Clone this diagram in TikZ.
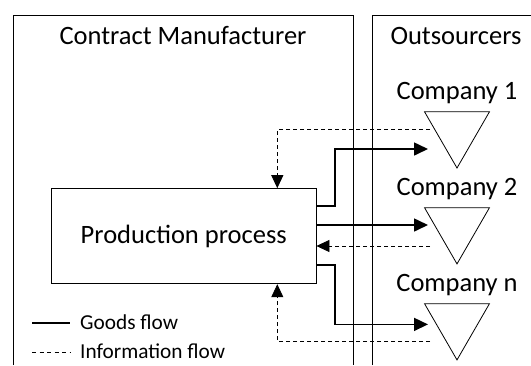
\documentclass[tikz,border=0pt]{standalone}
\usepackage{fontspec}
\setmainfont{Carlito}
\usetikzlibrary{arrows.meta,shapes.geometric,calc}
\tikzset{goods/.style={line width=1.6pt, -{Triangle[length=14pt,width=13pt]}},
info/.style={line width=0.8pt, dash pattern=on 4pt off 3pt, -{Triangle[length=13pt,width=12pt]}},
company/.style={draw, line width=0.8pt, regular polygon, regular polygon sides=3,
  shape border rotate=180, minimum size=75pt, inner sep=0pt, outer sep=0pt},
%titles and legend texts sit on their baseline
title/.style={font=\fontsize{26.5}{30}\selectfont, anchor=base, inner sep=0pt},
legendtext/.style={font=\fontsize{21.3}{25}\selectfont, anchor=base west, inner sep=0pt}}

\begin{document}
\begin{tikzpicture}[x=1pt,y=-1pt]
    \useasboundingbox (0,0) rectangle (531,365);

    % panels
    \draw[line width=0.8pt] (13.5,365) |- (353,15.2) -- (353,365);
    \draw[line width=0.8pt] (372.5,365) |- (531,15.2);

    \node[title] (cm) at (183,44) {Contract Manufacturer};
    \node[title] (os) at (456,44) {Outsourcers};

    \node[draw, line width=0.8pt, minimum width=264.5pt, minimum height=95.2pt,
      inner sep=0pt, font=\fontsize{26.5}{30}\selectfont] (pp) at (183.75,236.2) {Production process};

    \foreach \i/\y/\n in {1/130.5/1, 2/226.4/2, 3/322.4/n}
    {
    \node[company] (t\i) at (457,\y) {};
    \node[title] (c\i) at (457,\y-30.6) {Company \n};
    }

    \coordinate (g1) at (428,149);
    \coordinate (g2) at (428,225);
    \coordinate (g3) at (428,324.4);
    \coordinate (i1) at (430,129.7);
    \coordinate (i2) at (430,246);
    \coordinate (i3) at (430,341.4);

    \draw[goods] ($(pp.north east)+(0,18)$) -- ++(18.6,0) |- (g1);
    \draw[goods] (g2 -| pp.east) -- (g2);
    \draw[goods] ($(pp.south east)+(0,-19)$) -- ++(18.6,0) |- (g3);

    \draw[info] (i1) -| ($(pp.north west)+(226.2,0)$);
    \draw[info] (i2) -- (i2 -| pp.east);
    \draw[info] (i3) -| ($(pp.south west)+(226.2,0)$);

    % legend
    \node[legendtext] (gf) at (80,329) {Goods flow};
    \node[legendtext] (if) at (80,358) {Information flow};
    \coordinate (l1) at (32,322.7);
    \coordinate (l2) at (32,352);
    \draw[line width=1.6pt] (l1) -- (l1 -| 70.4,0);
    \draw[line width=0.8pt, dash pattern=on 4pt off 3.5pt] (l2) -- (l2 -| 70.4,0);

  \end{tikzpicture}
\end{document}
